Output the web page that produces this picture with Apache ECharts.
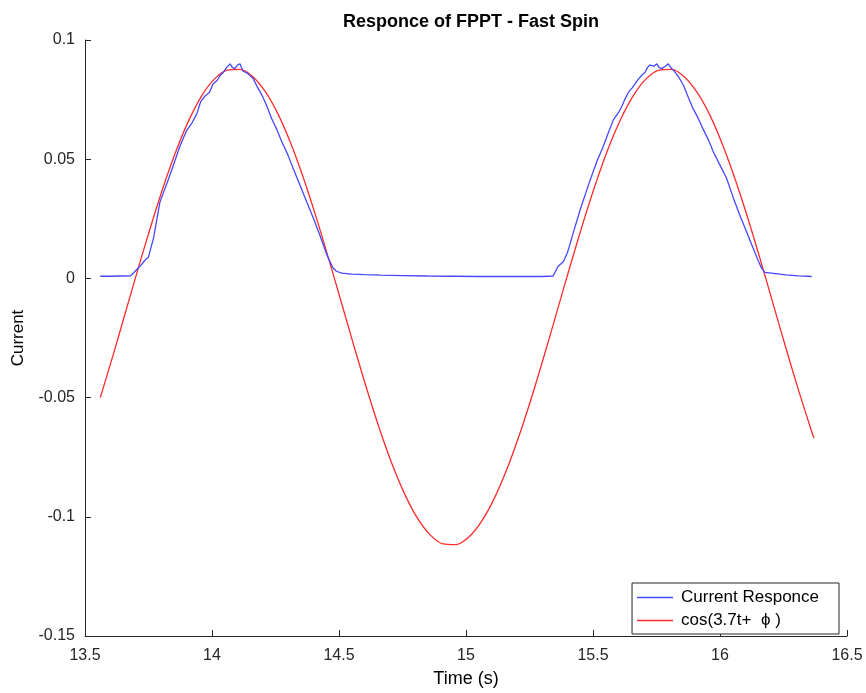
<!DOCTYPE html>
<html>
<head>
<meta charset="utf-8">
<title>Responce of FPPT - Fast Spin</title>
<script src="https://cdn.jsdelivr.net/npm/echarts@6/dist/echarts.min.js"></script>
<style>
	html, body { margin: 0; padding: 0; background: #fff; }
	#chart { width: 866px; height: 693px; }
</style>
</head>
<body>
<div id="chart"></div>
<script>
// measured current (blue)
var currentTime = [13.56, 13.60, 13.64, 13.68, 13.70, 13.72, 13.735, 13.75, 13.77, 13.795, 13.83, 13.874, 13.90, 13.92, 13.94, 13.955, 13.972, 13.99, 14.004, 14.02, 14.031, 14.045, 14.058, 14.071, 14.08, 14.09, 14.10, 14.11, 14.122, 14.14, 14.161, 14.18, 14.196, 14.215, 14.235, 14.255, 14.274, 14.30, 14.32, 14.345, 14.373, 14.40, 14.425, 14.445, 14.458, 14.476, 14.49, 14.511, 14.55, 14.60, 14.663, 14.75, 14.85, 14.95, 15.05, 15.15, 15.25, 15.30, 15.343, 15.362, 15.383, 15.40, 15.422, 15.45, 15.488, 15.515, 15.541, 15.56, 15.58, 15.60, 15.613, 15.625, 15.639, 15.655, 15.678, 15.69, 15.705, 15.715, 15.724, 15.74, 15.751, 15.76, 15.77, 15.785, 15.796, 15.81, 15.823, 15.84, 15.856, 15.875, 15.895, 15.915, 15.934, 15.955, 15.974, 16.00, 16.026, 16.05, 16.078, 16.105, 16.131, 16.15, 16.164, 16.177, 16.21, 16.26, 16.31, 16.361];
var currentValue = [0.0009, 0.0009, 0.0010, 0.0011, 0.0033, 0.0055, 0.0075, 0.0090, 0.0170, 0.0320, 0.0420, 0.0555, 0.0620, 0.0650, 0.0690, 0.0740, 0.0765, 0.0780, 0.0815, 0.0830, 0.0850, 0.0865, 0.0885, 0.0900, 0.0885, 0.0880, 0.0895, 0.0900, 0.0870, 0.0860, 0.0840, 0.0800, 0.0770, 0.0725, 0.0670, 0.0625, 0.0575, 0.0515, 0.0460, 0.0395, 0.0320, 0.0250, 0.0180, 0.0120, 0.0085, 0.0045, 0.0030, 0.0022, 0.0018, 0.0016, 0.0014, 0.0012, 0.0010, 0.0009, 0.0008, 0.0008, 0.0008, 0.0008, 0.0010, 0.0050, 0.0070, 0.0110, 0.0190, 0.0290, 0.0410, 0.0490, 0.0555, 0.0610, 0.0665, 0.0695, 0.0720, 0.0750, 0.0780, 0.0800, 0.0835, 0.0850, 0.0865, 0.0885, 0.0895, 0.0890, 0.0900, 0.0885, 0.0880, 0.0890, 0.0900, 0.0880, 0.0865, 0.0840, 0.0810, 0.0760, 0.0710, 0.0670, 0.0625, 0.0580, 0.0530, 0.0475, 0.0420, 0.0345, 0.0265, 0.0195, 0.0125, 0.0075, 0.0042, 0.0025, 0.0021, 0.0015, 0.0011, 0.0008];

// fitted cosine (red)
var fitTime = [13.56, 13.61, 13.66, 13.71, 13.76, 13.81, 13.86, 13.91, 13.96, 14.01, 14.06, 14.11, 14.16, 14.21, 14.26, 14.31, 14.36, 14.41, 14.46, 14.51, 14.56, 14.61, 14.66, 14.71, 14.76, 14.81, 14.86, 14.91, 14.96, 15.01, 15.06, 15.11, 15.16, 15.21, 15.26, 15.31, 15.36, 15.41, 15.46, 15.51, 15.56, 15.61, 15.66, 15.71, 15.76, 15.81, 15.86, 15.91, 15.96, 16.01, 16.06, 16.11, 16.16, 16.21, 16.26, 16.31, 16.36, 16.37];
var fitValue = [-0.0500, -0.0324, -0.0140, 0.0044, 0.0222, 0.0390, 0.0539, 0.0666, 0.0767, 0.0837, 0.0874, 0.0877, 0.0847, 0.0783, 0.0689, 0.0567, 0.0421, 0.0257, 0.0080, -0.0103, -0.0288, -0.0466, -0.0633, -0.0782, -0.0908, -0.1008, -0.1077, -0.1114, -0.1117, -0.1086, -0.1021, -0.0926, -0.0803, -0.0657, -0.0493, -0.0316, -0.0132, 0.0052, 0.0230, 0.0396, 0.0545, 0.0670, 0.0769, 0.0838, 0.0874, 0.0877, 0.0845, 0.0780, 0.0685, 0.0561, 0.0415, 0.0251, 0.0074, -0.0110, -0.0294, -0.0472, -0.0639, -0.0670];

var seriesNames = ['Current Responce', 'cos(3.7t+  \u03d5 )'];

function pairs(xs, ys) {
	var out = [];
	for (var i = 0; i < xs.length; i++) {
		out.push([xs[i], ys[i]]);
	}
	return out;
}

var axisColor = '#262626';
var font = 'Liberation Sans, Arial, sans-serif';

var chart = echarts.init(document.getElementById('chart'));
chart.setOption({
	animation: false,
	backgroundColor: '#fff',
	title: {
		text: 'Responce of FPPT - Fast Spin',
		left: 466,
		textAlign: 'center',
		top: 8,
		textStyle: { fontFamily: font, fontSize: 18, fontWeight: 'bold', color: '#000' }
	},
	grid: { left: 85, right: 19, top: 40, bottom: 55, containLabel: false },
	legend: {
		data: seriesNames,
		orient: 'vertical',
		right: 27,
		bottom: 59,
		icon: 'rect',
		itemWidth: 36,
		itemHeight: 1.5,
		itemGap: 6,
		padding: [6, 20, 5, 5],
		backgroundColor: '#fff',
		borderColor: axisColor,
		borderWidth: 1,
		borderRadius: 0,
		textStyle: { fontFamily: font, fontSize: 17, color: '#000', padding: [0, 0, 0, 3] }
	},
	xAxis: {
		type: 'value',
		min: 13.5,
		max: 16.5,
		interval: 0.5,
		name: 'Time (s)',
		nameLocation: 'middle',
		nameGap: 34,
		nameTextStyle: { fontFamily: font, fontSize: 18, color: '#000' },
		axisLine: { onZero: false, lineStyle: { color: axisColor, width: 1 } },
		axisTick: { inside: true, length: 6, lineStyle: { color: axisColor } },
		axisLabel: { fontFamily: font, fontSize: 16, color: '#262626', margin: 12,
			formatter: function (v) { return String(+v.toFixed(2)); } },
		splitLine: { show: false }
	},
	yAxis: {
		type: 'value',
		min: -0.15,
		max: 0.1,
		interval: 0.05,
		name: 'Current',
		nameLocation: 'middle',
		nameRotate: 90,
		nameGap: 58,
		nameTextStyle: { fontFamily: font, fontSize: 17, color: '#000' },
		axisLine: { show: true, onZero: false, lineStyle: { color: axisColor, width: 1 } },
		axisTick: { show: true, inside: true, length: 6, lineStyle: { color: axisColor } },
		axisLabel: { fontFamily: font, fontSize: 16, color: '#262626', margin: 10,
			formatter: function (v) { return String(+v.toFixed(2)); } },
		splitLine: { show: false }
	},
	series: [
		{
			name: seriesNames[0],
			type: 'line',
			data: pairs(currentTime, currentValue),
			symbol: 'none',
			lineStyle: { color: '#4747ff', width: 1.3 },
			itemStyle: { color: '#4747ff' },
			z: 3
		},
		{
			name: seriesNames[1],
			type: 'line',
			data: pairs(fitTime, fitValue),
			symbol: 'none',
			smooth: 0.3,
			lineStyle: { color: '#ff2a2a', width: 1.3 },
			itemStyle: { color: '#ff2a2a' },
			z: 2
		}
	]
});
</script>
</body>
</html>
